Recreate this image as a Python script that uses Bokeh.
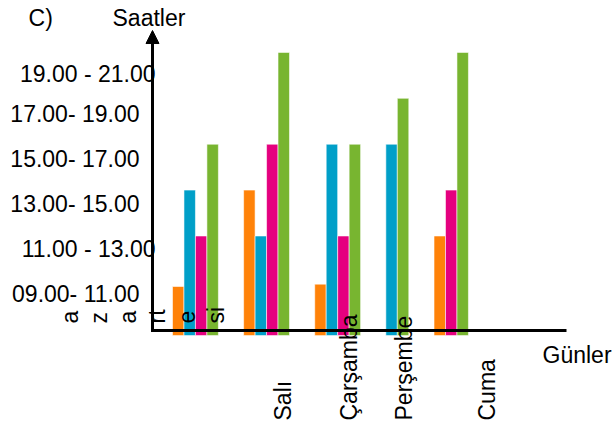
import math
from bokeh.plotting import figure
from bokeh.models import Range1d, Arrow, NormalHead, ColumnDataSource
from bokeh.core.properties import value
from bokeh.embed import file_html
from bokeh.resources import INLINE

# ---------------- data ----------------
days = ["Pazartesi", "Salı", "Çarşamba", "Perşembe", "Cuma"]
orange_vals = [0.9, 3, 0.95, None, 2]
blue_vals = [3, 2, 4, 4, None]
magenta_vals = [2, 4, 2, None, 3]
green_vals = [4, 6, 4, 5, 6]

y_tick_labels = ["09.00- 11.00", "11.00 - 13.00", "13.00- 15.00",
                 "15.00- 17.00", "17.00- 19.00", "19.00 - 21.00"]
y_tick_pos = [0.73, 1.71, 2.69, 3.67, 4.66, 5.52]

# broken first-day label fragments as they appear
monday_fragments = ["a", "z", "a", "rt", "e", "si"]
other_day_labels = days[1:]

y_title = "Saatler"
x_title = "Günler"
panel_tag = "C)"

# ---------------- layout / style ----------------
colors = ["#FF8208", "#009FC8", "#E5007F", "#78B530"]
series = [orange_vals, blue_vals, magenta_vals, green_vals]
GROUP_PAD = 2.2
BAR_BOTTOM = -0.17
FONT = value("Liberation Sans")
FS = "23px"

xs, tops, cols = [], [], []
slot = 0
for gi, day in enumerate(days):
    for vals, col in zip(series, colors):
        v = vals[gi]
        if v is None:
            continue
        xs.append(slot + 0.5 + gi * GROUP_PAD)
        tops.append(v)
        cols.append(col)
        slot += 1

p = figure(width=614, height=424, output_backend="svg", toolbar_location=None,
           x_range=Range1d(-14.996, 38.535), y_range=Range1d(-2.107, 7.131),
           x_axis_type=None, y_axis_type=None, min_border=0)
p.outline_line_color = None
p.grid.visible = False
p.background_fill_color = "white"

src = ColumnDataSource(dict(x=xs, top=tops, color=cols))
p.vbar(x="x", top="top", bottom=BAR_BOTTOM, width=1.0, source=src,
       fill_color="color", line_color="white", line_width=0.8, line_alpha=0.7)

# y tick labels
label_dx = [0, 16, 0, 0, 0, 16]
ysrc = ColumnDataSource(dict(y=y_tick_pos, text=y_tick_labels, dx=label_dx))
p.text(x=-2.877, y="y", text="text", x_offset="dx", source=ysrc,
       text_align="right", text_baseline="alphabetic",
       text_font=FONT, text_font_size=FS, text_color="black")

# x axis line
AXIS_Y = -0.059
AXIS_X = -1.744
p.segment(x0=AXIS_X, y0=AXIS_Y, x1=34.35, y1=AXIS_Y, line_width=3, line_color="black")

# y axis with arrow
p.add_layout(Arrow(end=NormalHead(size=13, fill_color="black", line_color="black", line_width=1),
                   x_start=AXIS_X, y_start=AXIS_Y - 0.03, x_end=AXIS_X, y_end=6.477,
                   line_width=3, line_color="black"))

# day labels (rotated)
day_x = [9.67, 15.39, 20.18, 27.42]
p.text(x=day_x, y=[-2.02] * len(day_x), text=other_day_labels, angle=math.pi / 2,
       text_align="left", text_baseline="alphabetic",
       text_font=FONT, text_font_size=FS, text_color="black")

frag_x = [-8.98 + i * 2.546 for i in range(len(monday_fragments))]
p.text(x=frag_x, y=[0.094] * len(frag_x), text=monday_fragments, angle=math.pi / 2,
       text_align="left", text_baseline="alphabetic",
       text_font=FONT, text_font_size=FS, text_color="black")

# titles
p.text(x=[-12.55, -5.23, 32.26], y=[6.76, 6.76, -0.582], text=[panel_tag, y_title, x_title],
       text_align="left", text_baseline="alphabetic",
       text_font=FONT, text_font_size=FS, text_color="black")

open("out.html", "w").write(file_html(p, INLINE))
